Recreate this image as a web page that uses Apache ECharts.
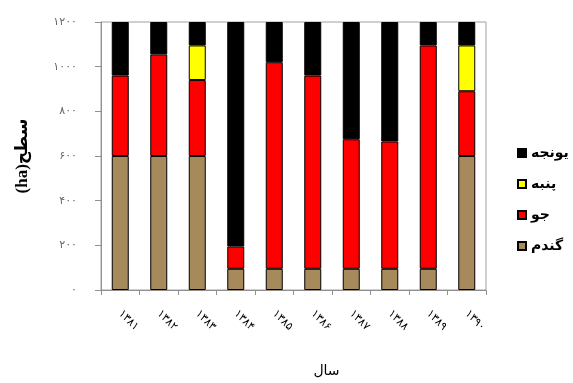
<!DOCTYPE html>
<html>
<head>
<meta charset="utf-8">
<script src="https://cdn.jsdelivr.net/npm/echarts@6/dist/echarts.min.js"></script>
<style>
  html, body { margin: 0; padding: 0; background: #fff; }
  #chart { width: 573px; height: 383px; }
</style>
</head>
<body>
<div id="chart"></div>
<script>
// Years (Persian calendar)
const years = ['۱۳۸۱', '۱۳۸۲', '۱۳۸۳', '۱۳۸۴', '۱۳۸۵', '۱۳۸۶', '۱۳۸۷', '۱۳۸۸', '۱۳۸۹', '۱۳۹۰'];

// Cultivated area per crop (ha), stacked bottom to top
const wheat   = [600, 600, 600, 95, 95, 95, 95, 95, 95, 600];          // گندم
const barley  = [360, 455, 340, 100, 925, 865, 580, 570, 1000, 290];   // جو
const cotton  = [null, null, 155, null, null, null, null, null, null, 205]; // پنبه
const alfalfa = [240, 145, 105, 1005, 180, 240, 525, 535, 105, 105];   // یونجه

// Y axis tick labels
const yTicks = [0, 200, 400, 600, 800, 1000, 1200];
const yTickLabels = ['۰', '۲۰۰', '۴۰۰', '۶۰۰', '۸۰۰', '۱۰۰۰', '۱۲۰۰'];

const seriesDefs = [
  { name: 'گندم', data: wheat, color: '#a68a5b' },
  { name: 'جو', data: barley, color: '#ff0000' },
  { name: 'پنبه', data: cotton, color: '#ffff00' },
  { name: 'یونجه', data: alfalfa, color: '#000000' }
];

const faFont = "'DejaVu Sans', 'Noto Sans', sans-serif";

const chart = echarts.init(document.getElementById('chart'), null, { renderer: 'canvas' });

chart.setOption({
  animation: false,
  backgroundColor: '#ffffff',
  grid: {
    left: 101, right: 87, top: 22, bottom: 91,
    show: true, borderColor: '#a0a0a0', borderWidth: 1, backgroundColor: 'transparent'
  },
  legend: {
    orient: 'vertical',
    left: 512, top: 141,
    itemWidth: 8, itemHeight: 8,
    itemGap: 17,
    icon: 'rect',
    data: ['یونجه', 'پنبه', 'جو', 'گندم'],
    textStyle: { fontFamily: faFont, fontSize: 14, color: '#000', fontWeight: 'bold' }
  },
  xAxis: {
    type: 'category',
    data: years,
    name: 'سال',
    nameLocation: 'middle',
    nameGap: 74,
    nameTextStyle: { fontFamily: faFont, fontSize: 14, color: '#000', padding: [0, 0, 0, 66] },
    axisLine: { lineStyle: { color: '#909090', width: 1 } },
    axisTick: { show: true, length: 5, alignWithLabel: false, lineStyle: { color: '#909090' } },
    axisLabel: {
      rotate: -45, margin: 22, fontFamily: faFont, fontSize: 11, color: '#000'
    }
  },
  yAxis: {
    type: 'value',
    min: 0, max: 1200, interval: 200,
    name: '(ha)سطح',
    nameLocation: 'middle',
    nameRotate: 90,
    nameGap: 70,
    nameTextStyle: { fontFamily: "'Liberation Serif', 'DejaVu Sans', serif", fontSize: 17, fontWeight: 'bold', color: '#000' },
    splitLine: { show: false },
    axisLine: { show: true, lineStyle: { color: '#909090', width: 1 } },
    axisTick: { show: true, length: 6, lineStyle: { color: '#909090' } },
    axisLabel: {
      margin: 24, fontFamily: faFont, fontSize: 11, color: '#666',
      formatter: function (v) { const i = yTicks.indexOf(v); return i >= 0 ? yTickLabels[i] : ''; }
    }
  },
  series: seriesDefs.map(s => ({
    name: s.name,
    type: 'bar',
    stack: 'area',
    barWidth: 17,
    data: s.data.map(v => (v == null ? '-' : v)),
    itemStyle: { color: s.color, borderColor: '#000', borderWidth: 1 }
  }))
});
</script>
</body>
</html>
